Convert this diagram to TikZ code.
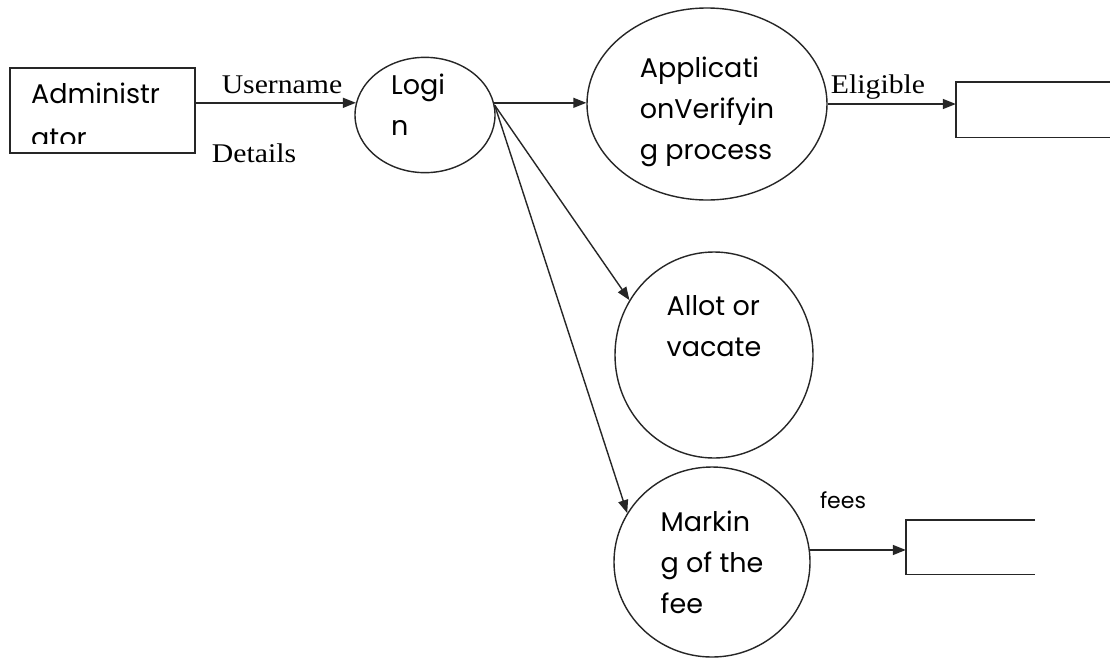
\documentclass[tikz,border=0pt]{standalone}
\usepackage{fontspec}
\setmainfont{Liberation Serif}
\newfontfamily\shapefont{Poppins}
\newfontfamily\labelfont[FakeStretch=1.1]{Liberation Serif}
\usetikzlibrary{shapes.geometric,arrows.meta}
\tikzset{
  proc/.style={ellipse,draw=black!85,line width=1.4pt,inner sep=0pt,align=left,
    font=\shapefont\fontsize{27}{41}\selectfont},
  entity/.style={rectangle,draw=black!85,line width=1.4pt,inner sep=0pt},
  store/.style={rectangle,inner sep=0pt},
  storeline/.style={draw=black!85,line width=1.4pt},
  flow/.style={draw=black!85,line width=1.4pt,-{Triangle[length=13pt,width=10pt]}},
  lbl/.style={inner sep=0pt,anchor=base,font=\labelfont\fontsize{27}{30}\selectfont},
  slbl/.style={inner sep=0pt,anchor=base,font=\shapefont\fontsize{22}{26}\selectfont},
}
\begin{document}
\begin{tikzpicture}[x=1pt,y=-1pt]
\useasboundingbox[fill=white] (0,0) rectangle (1110,659);
% entity
\node[entity,minimum width=185pt,minimum height=85pt] (admin) at (102.5,110.5) {};
\begin{scope}
  \clip (10,68) rectangle (195,143);
  \node[inner sep=0pt,anchor=north west,align=left,font=\shapefont\fontsize{27}{44}\selectfont] (admintext) at (31,83) {Administr\\ator};
\end{scope}
% processes
\node[proc,minimum width=140pt,minimum height=106pt] (login) at (425,115) {Logi\rule{14pt}{0pt}\\n\rule[-20pt]{0pt}{20pt}};
\node[proc,minimum width=240pt,minimum height=192pt] (app) at (707,104) {\rule{0pt}{36pt}Applicati\\onVerifyin\\g process};
\node[proc,minimum width=198pt,minimum height=206pt] (allot) at (714,355) {Allot or\\vacate\\[16pt]\mbox{}};
\node[proc,minimum width=196pt,minimum height=190pt] (mark) at (712,562) {Markin\\g of the\\fee};
% stores (open on the right)
\node[store,minimum width=154pt,minimum height=55pt] (elig) at (1033,109.5) {};
\draw[storeline] (elig.north east) -- (elig.north west) -- (elig.south west) -- (elig.south east);
\node[store,minimum width=129pt,minimum height=54pt] (fees) at (970.5,547) {};
\draw[storeline] (fees.north east) -- (fees.north west) -- (fees.south west) -- (fees.south east);
% flows
\draw[flow] (login.170 -| admin.east) -- (login.170);
\draw[flow] (login.10) -- (login.10 -| app.west);
\draw[flow] (login.8) -- (allot.147);
\draw[flow] (login.8) -- (mark.150);
\draw[flow] (app.east) -- (app.east -| elig.west);
\draw[flow] (mark.7) -- (mark.7 -| fees.west);
% labels
\node[lbl] (lUser) at (282,93) {Username};
\node[lbl] (lDet) at (254,162) {Details};
\node[lbl] (lElig) at (878,93) {Eligible};
\node[slbl] (lFees) at (843,508) {fees};
\end{tikzpicture}
\end{document}
